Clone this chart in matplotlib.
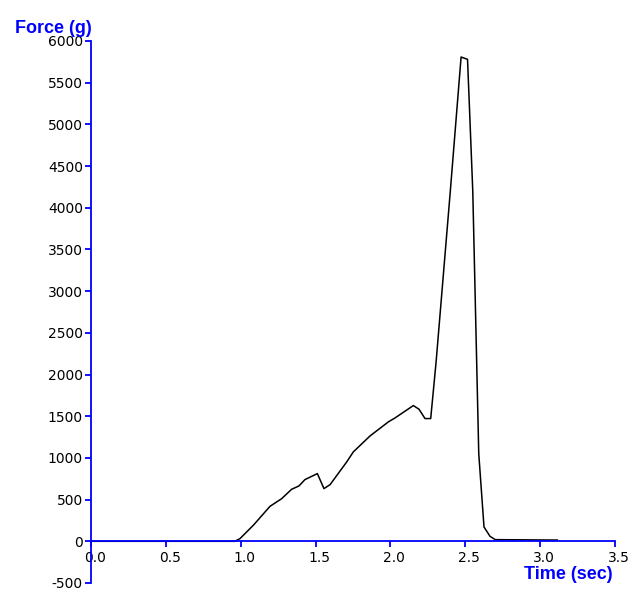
import matplotlib
matplotlib.use('Agg')
import matplotlib.pyplot as plt
from matplotlib.transforms import ScaledTranslation

matplotlib.rcParams['axes.unicode_minus'] = False

# force trace
time = [0.0, 0.96, 0.995, 1.084, 1.196, 1.274, 1.340, 1.389, 1.429, 1.512,
        1.556, 1.597, 1.708, 1.752, 1.864, 1.986, 2.031, 2.153, 2.191, 2.231,
        2.269, 2.305, 2.40, 2.472, 2.515, 2.55, 2.59, 2.625, 2.665, 2.70, 3.115]
force = [0, 0, 32, 192, 420, 512, 624, 664, 740, 812,
         632, 680, 952, 1072, 1264, 1432, 1480, 1628, 1584, 1472,
         1472, 2150, 4200, 5808, 5780, 4200, 1050, 172, 60, 20, 15]

xticks = [0.0, 0.5, 1.0, 1.5, 2.0, 2.5, 3.0, 3.5]
yticks = list(range(-500, 6001, 500))

blue = '#0000ff'

fig = plt.figure(figsize=(6.37, 5.90), dpi=100)
ax = fig.add_axes([91/637, 1-583/590, (615-91)/637, (583-41)/590])

ax.plot(time, force, color='black', lw=1.1)

ax.set_xlim(0, 3.5)
ax.set_ylim(-500, 6000)
ax.set_xticks(xticks)
ax.set_xticklabels(['%.1f' % v for v in xticks])
ax.set_yticks(yticks)
ax.set_yticklabels([str(v) for v in yticks])

ax.spines['top'].set_visible(False)
ax.spines['right'].set_visible(False)
ax.spines['bottom'].set_position(('data', 0))
for s in ['left', 'bottom']:
    ax.spines[s].set_color(blue)
    ax.spines[s].set_linewidth(1.3)

ax.tick_params(axis='both', colors=blue, labelcolor='black', labelsize=10,
               width=1.3, length=4.3, direction='out')
ax.tick_params(axis='x', pad=3)
ax.tick_params(axis='y', pad=1.5)

for lab in ax.get_xticklabels():
    lab.set_transform(lab.get_transform() + ScaledTranslation(4/100, 0, fig.dpi_scale_trans))

fig.text(92/637, 1-33/590, 'Force (g)', ha='right', va='baseline',
         color=blue, fontsize=13, fontweight='bold', family='Liberation Sans')
fig.text(613/637, 1-579/590, 'Time (sec)', ha='right', va='baseline',
         color=blue, fontsize=13, fontweight='bold', family='Liberation Sans')

fig.savefig('out.png', dpi=100)
